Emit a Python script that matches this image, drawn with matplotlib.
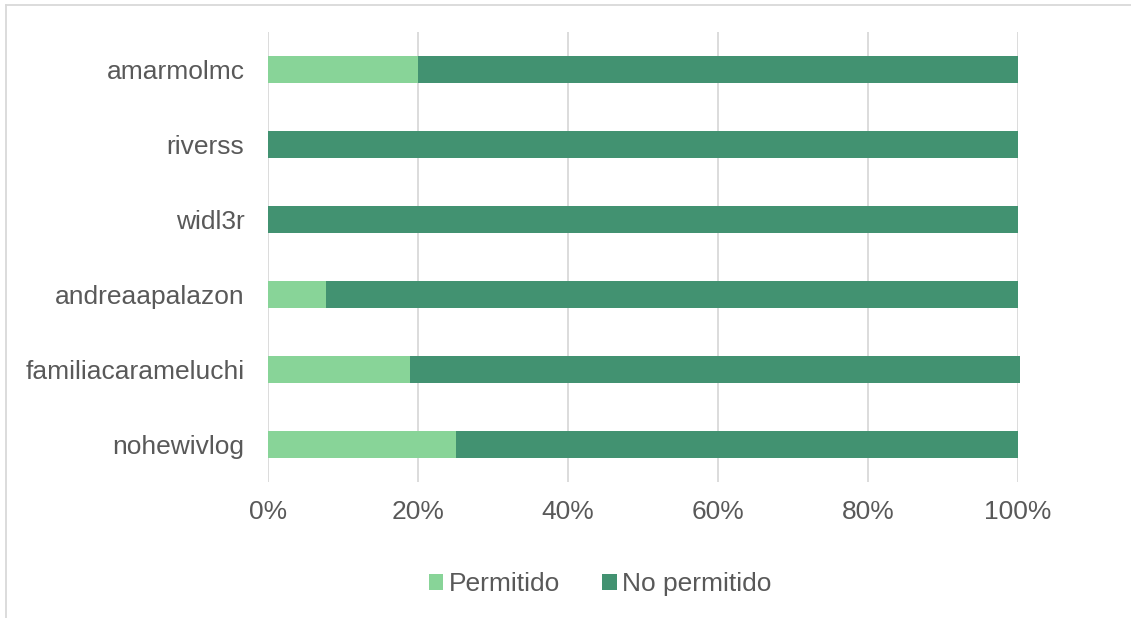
import matplotlib
matplotlib.use("Agg")
import matplotlib.pyplot as plt
from matplotlib.patches import Patch
from matplotlib.lines import Line2D
from matplotlib.ticker import FuncFormatter

# Share of permitted vs. not permitted content per account (%)
accounts = ["amarmolmc", "riverss", "widl3r", "andreaapalazon",
            "familiacarameluchi", "nohewivlog"]
permitido = [20.0, 0.0, 0.0, 7.7, 18.9, 25.0]
no_permitido = [80.0, 100.0, 100.0, 92.3, 81.4, 75.0]
x_ticks = [0, 20, 40, 60, 80, 100]
series_names = ["Permitido", "No permitido"]

LIGHT = "#88D498"
DARK = "#429271"
TEXT = "#595959"
GRID = "#D9D9D9"

plt.rcParams["font.family"] = ["Liberation Sans", "DejaVu Sans"]

fig = plt.figure(figsize=(11.31, 6.18), dpi=100)
ax = fig.add_axes([268 / 1131, 1 - 482 / 618, 750 / 1131, 450 / 618])

# Top-to-bottom order on the chart
ypos = list(range(len(accounts)))[::-1]
b1 = ax.barh(ypos, permitido, height=0.36, color=LIGHT, zorder=3)
b2 = ax.barh(ypos, no_permitido, left=permitido, height=0.36, color=DARK, zorder=3)
# rounded shares can total a little over 100%, let the bar run past the axis end
for bar in list(b1) + list(b2):
    bar.set_clip_on(False)

ax.set_xlim(0, 100)
ax.set_ylim(-0.5, len(accounts) - 0.5)
ax.set_xticks(x_ticks)
ax.xaxis.set_major_formatter(FuncFormatter(lambda v, _: f"{v:.0f}%"))
ax.set_yticks(ypos)
ax.set_yticklabels(accounts)

ax.grid(axis="x", color=GRID, linewidth=1.3, zorder=0)
for s in ax.spines.values():
    s.set_visible(False)
ax.tick_params(axis="both", length=0, labelsize=19, labelcolor=TEXT)
ax.tick_params(axis="y", pad=17)
ax.tick_params(axis="x", pad=13)

# Chart frame (top and left edges)
fig.add_artist(Line2D([6 / 1131, 1.0], [1 - 5 / 618, 1 - 5 / 618],
                      color=GRID, linewidth=1.3, transform=fig.transFigure))
fig.add_artist(Line2D([6 / 1131, 6 / 1131], [1 - 5 / 618, 0.0],
                      color=GRID, linewidth=1.3, transform=fig.transFigure))

handles = [Patch(facecolor=LIGHT), Patch(facecolor=DARK)]
fig.legend(handles, series_names, loc="center", ncol=2,
           bbox_to_anchor=(600 / 1131, 1 - 584 / 618), frameon=False,
           fontsize=19, labelcolor=TEXT, handlelength=0.55, handleheight=0.55,
           handletextpad=0.2, columnspacing=1.6, borderpad=0)

fig.savefig("out.png", dpi=100, facecolor="white")
